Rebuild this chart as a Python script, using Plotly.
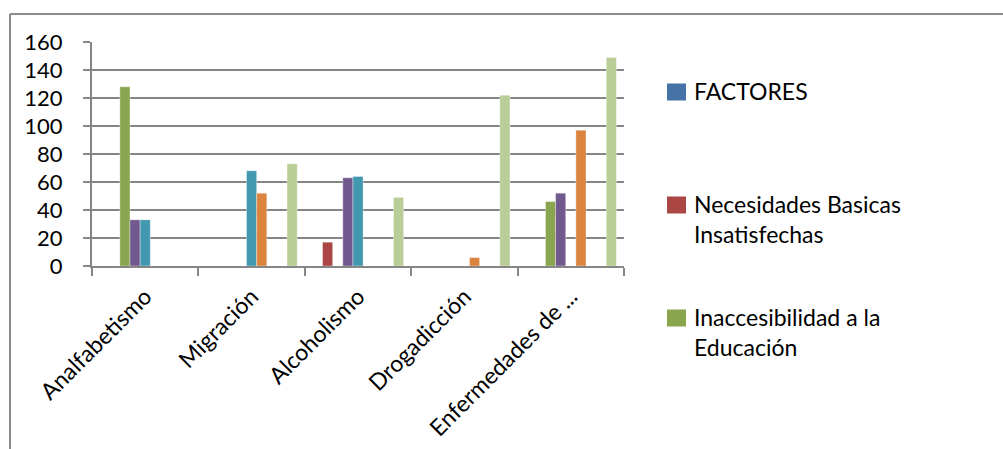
import plotly.graph_objects as go

categories = ["Analfabetismo", "Migración", "Alcoholismo", "Drogadicción", "Enfermedades de ..."]

series_names = [
    "FACTORES",
    "Necesidades Basicas<br>Insatisfechas",
    "Inaccesibilidad a la<br>Educación",
    "Serie 4",
    "Serie 5",
    "Serie 6",
    "Serie 7",
    "Serie 8",
    "Serie 9",
]
series_values = [
    [0, 0, 0, 0, 0],
    [0, 0, 17, 0, 0],
    [128, 0, 0, 0, 46],
    [33, 0, 63, 0, 52],
    [33, 68, 64, 0, 0],
    [0, 52, 0, 6, 97],
    [0, 0, 0, 0, 0],
    [0, 0, 0, 0, 0],
    [0, 73, 49, 122, 149],
]
series_colors = ["#4572A7", "#AA4643", "#89A54E", "#71588F", "#4198AF",
                 "#DB843D", "#92A8CD", "#A47D7C", "#B9CD96"]
# only the first three series appear in the (truncated) legend
legend_count = 3

FONT = "Lato"

fig = go.Figure()
for i, (name, vals) in enumerate(zip(series_names, series_values)):
    fig.add_trace(go.Bar(
        x=categories, y=vals, name=name.replace("<br>", " "),
        marker=dict(color=series_colors[i], line=dict(color="rgba(255,255,255,0.6)", width=0.6)),
        showlegend=False,
    ))

L, R, T, B = 92, 624, 42, 266
W, H = 1003, 449

def px_x(p):
    return (p - L) / (R - L)

def px_y(p):
    return (B - p) / (B - T)

# legend drawn as swatches + text (Excel-style spacing)
legend_first_line_y = [92, 205, 318]
shapes = [
    dict(type="line", xref="paper", yref="paper",
         x0=px_x(10), y0=px_y(14), x1=px_x(1003), y1=px_y(14),
         line=dict(color="#8c8c8c", width=2)),
    dict(type="line", xref="paper", yref="paper",
         x0=px_x(10), y0=px_y(14), x1=px_x(10), y1=px_y(449),
         line=dict(color="#8c8c8c", width=2)),
]
annotations = []
for i in range(legend_count):
    yc = legend_first_line_y[i]
    shapes.append(dict(type="rect", xref="paper", yref="paper",
                       x0=px_x(667), x1=px_x(686), y0=px_y(yc - 8.5), y1=px_y(yc + 8.5),
                       fillcolor=series_colors[i], line=dict(width=0)))
    annotations.append(dict(xref="paper", yref="paper", x=px_x(692), y=px_y(yc - 17),
                            xanchor="left", yanchor="top", align="left", showarrow=False,
                            text=series_names[i],
                            font=dict(family=FONT, size=23, color="black")))

fig.update_layout(
    width=W, height=H,
    margin=dict(l=L, r=W - R, t=T, b=H - B, autoexpand=False),
    paper_bgcolor="white", plot_bgcolor="white",
    barmode="group", bargap=0.143, bargroupgap=0,
    font=dict(family=FONT, size=22, color="black"),
    showlegend=False,
    xaxis=dict(
        type="category", tickangle=-45, automargin=False,
        showline=True, linecolor="#868686", linewidth=2,
        ticks="outside", tickson="boundaries", ticklen=8, tickcolor="#868686", tickwidth=2,
        showgrid=False, tickfont=dict(family=FONT, size=23, color="black"),
        ticklabelstandoff=6,
    ),
    yaxis=dict(
        range=[0, 160], dtick=20, tick0=0, automargin=False,
        showline=True, linecolor="#868686", linewidth=2,
        ticks="outside", ticklen=7, tickcolor="#868686", tickwidth=2,
        showgrid=True, gridcolor="#868686", gridwidth=2,
        zeroline=False,
        tickfont=dict(family=FONT, size=22, color="black"),
        ticklabelstandoff=16,
    ),
    shapes=shapes,
    annotations=annotations,
)

fig.write_html("out.html")
